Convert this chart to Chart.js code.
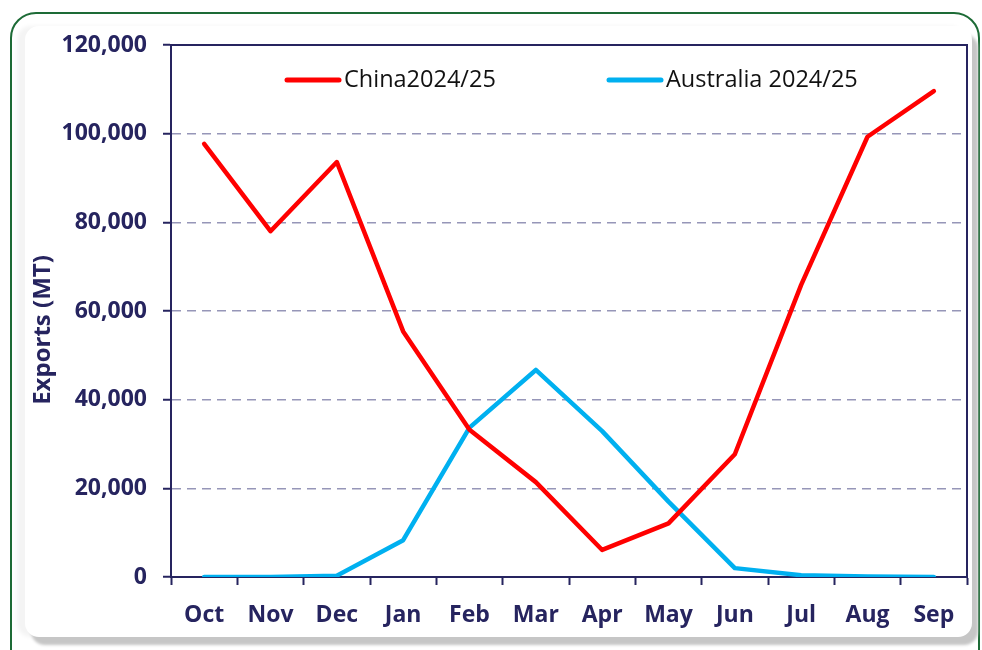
<!DOCTYPE html>
<html>
<head>
<meta charset="utf-8">
<script src="https://cdn.jsdelivr.net/npm/chart.js@4/dist/chart.umd.min.js"></script>
<style>
  html, body { margin: 0; padding: 0; background: #fff; overflow: hidden; }
  #wrap { position: relative; width: 982px; height: 650px; }
  /* grüner Rahmen + Karte mit Schatten */
  .frame { position: absolute; left: 10px; top: 12px; width: 966px; height: 680px;
    border: 2px solid #1d6b36; border-radius: 26px; background: #fff; }
  .card { position: absolute; left: 25px; top: 26px; width: 947px; height: 611px;
    background: #fff; border-radius: 14px;
    box-shadow: 6px 8px 3px #c6c6c6, -8px 0 4px #f4f4f4; }
  canvas { position: absolute; left: 0; top: 0; }
</style>
</head>
<body>
<div id="wrap">
  <div class="frame"></div>
  <div class="card"></div>
  <canvas id="c" width="982" height="650"></canvas>
</div>
<script>
  'use strict';

  var months = ['Oct', 'Nov', 'Dec', 'Jan', 'Feb', 'Mar', 'Apr', 'May', 'Jun', 'Jul', 'Aug', 'Sep'];
  var china = [97700, 78000, 93600, 55400, 33200, 21400, 6100, 12100, 27700, 65900, 99300, 109600];
  var australia = [0, 0, 300, 8300, 33700, 46700, 32900, 17000, 2000, 400, 100, 0];
  var yTicks = [0, 20000, 40000, 60000, 80000, 100000, 120000];

  var NAVY = '#26245f';
  var GRID = '#9696b8';
  var FONT = "'Open Sans', 'Liberation Sans', sans-serif";

  // Rahmen um die Plotfläche (oben/rechts fehlen sonst)
  var plotFrame = {
    id: 'plotFrame',
    beforeDatasetsDraw: function (chart) {
      var a = chart.chartArea, ctx = chart.ctx;
      ctx.save();
      ctx.strokeStyle = NAVY; ctx.lineWidth = 2;
      ctx.strokeRect(a.left, a.top, a.right - a.left, a.bottom - a.top);
      ctx.restore();
    }
  };

  // Legende innerhalb der Plotfläche + Achsentitel
  var innerLegend = {
    id: 'innerLegend',
    afterDatasetsDraw: function (chart) {
      var ctx = chart.ctx, xs = [285, 607], y = 80;
      ctx.save();
      chart.data.datasets.forEach(function (ds, i) {
        ctx.strokeStyle = ds.borderColor; ctx.lineWidth = 5; ctx.lineCap = 'round';
        ctx.beginPath(); ctx.moveTo(xs[i] + 2, y); ctx.lineTo(xs[i] + 54, y); ctx.stroke();
        ctx.fillStyle = '#111'; ctx.font = '23.5px ' + FONT;
        ctx.textBaseline = 'middle'; ctx.textAlign = 'left';
        ctx.fillText(ds.label, xs[i] + 59, y);
      });
      ctx.translate(43, 330); ctx.rotate(-Math.PI / 2);
      ctx.fillStyle = NAVY; ctx.font = 'bold 24px ' + FONT;
      ctx.textAlign = 'center'; ctx.textBaseline = 'middle';
      ctx.fillText('Exports (MT)', 0, 0);
      ctx.restore();
    }
  };

  new Chart(document.getElementById('c').getContext('2d'), {
    type: 'line',
    data: {
      labels: months,
      datasets: [
        { label: 'China2024/25', data: china, borderColor: '#ff0000', borderWidth: 4.5,
          pointRadius: 0, tension: 0, borderCapStyle: 'round', borderJoinStyle: 'round' },
        { label: 'Australia 2024/25', data: australia, borderColor: '#00b0f0', borderWidth: 4.5,
          pointRadius: 0, tension: 0, borderCapStyle: 'round', borderJoinStyle: 'round' }
      ]
    },
    options: {
      responsive: false, animation: false,
      layout: { padding: { left: 0, top: 45, right: 15, bottom: 0 } },
      plugins: { legend: { display: false }, tooltip: { enabled: false } },
      scales: {
        x: {
          offset: true,
          grid: { offset: true, drawOnChartArea: false, tickColor: NAVY, tickLength: 8, tickWidth: 2 },
          border: { color: NAVY, width: 2 },
          ticks: { color: NAVY, font: { family: FONT, size: 23, weight: 'bold' }, padding: 17, maxRotation: 0 },
          afterFit: function (s) { s.height = 73; }
        },
        y: {
          min: 0, max: 120000,
          afterBuildTicks: function (s) { s.ticks = yTicks.map(function (v) { return { value: v }; }); },
          grid: { color: GRID, lineWidth: 1.5, tickColor: NAVY, tickLength: 8, tickWidth: 2 },
          border: { color: NAVY, width: 2, dash: [9, 6] },
          ticks: {
            color: NAVY, font: { family: FONT, size: 23, weight: 'bold' }, padding: 16,
            callback: function (v) { return v.toLocaleString('en-US'); }
          },
          afterFit: function (s) { s.width = 171; }
        }
      }
    },
    plugins: [plotFrame, innerLegend]
  });
</script>
</body>
</html>
